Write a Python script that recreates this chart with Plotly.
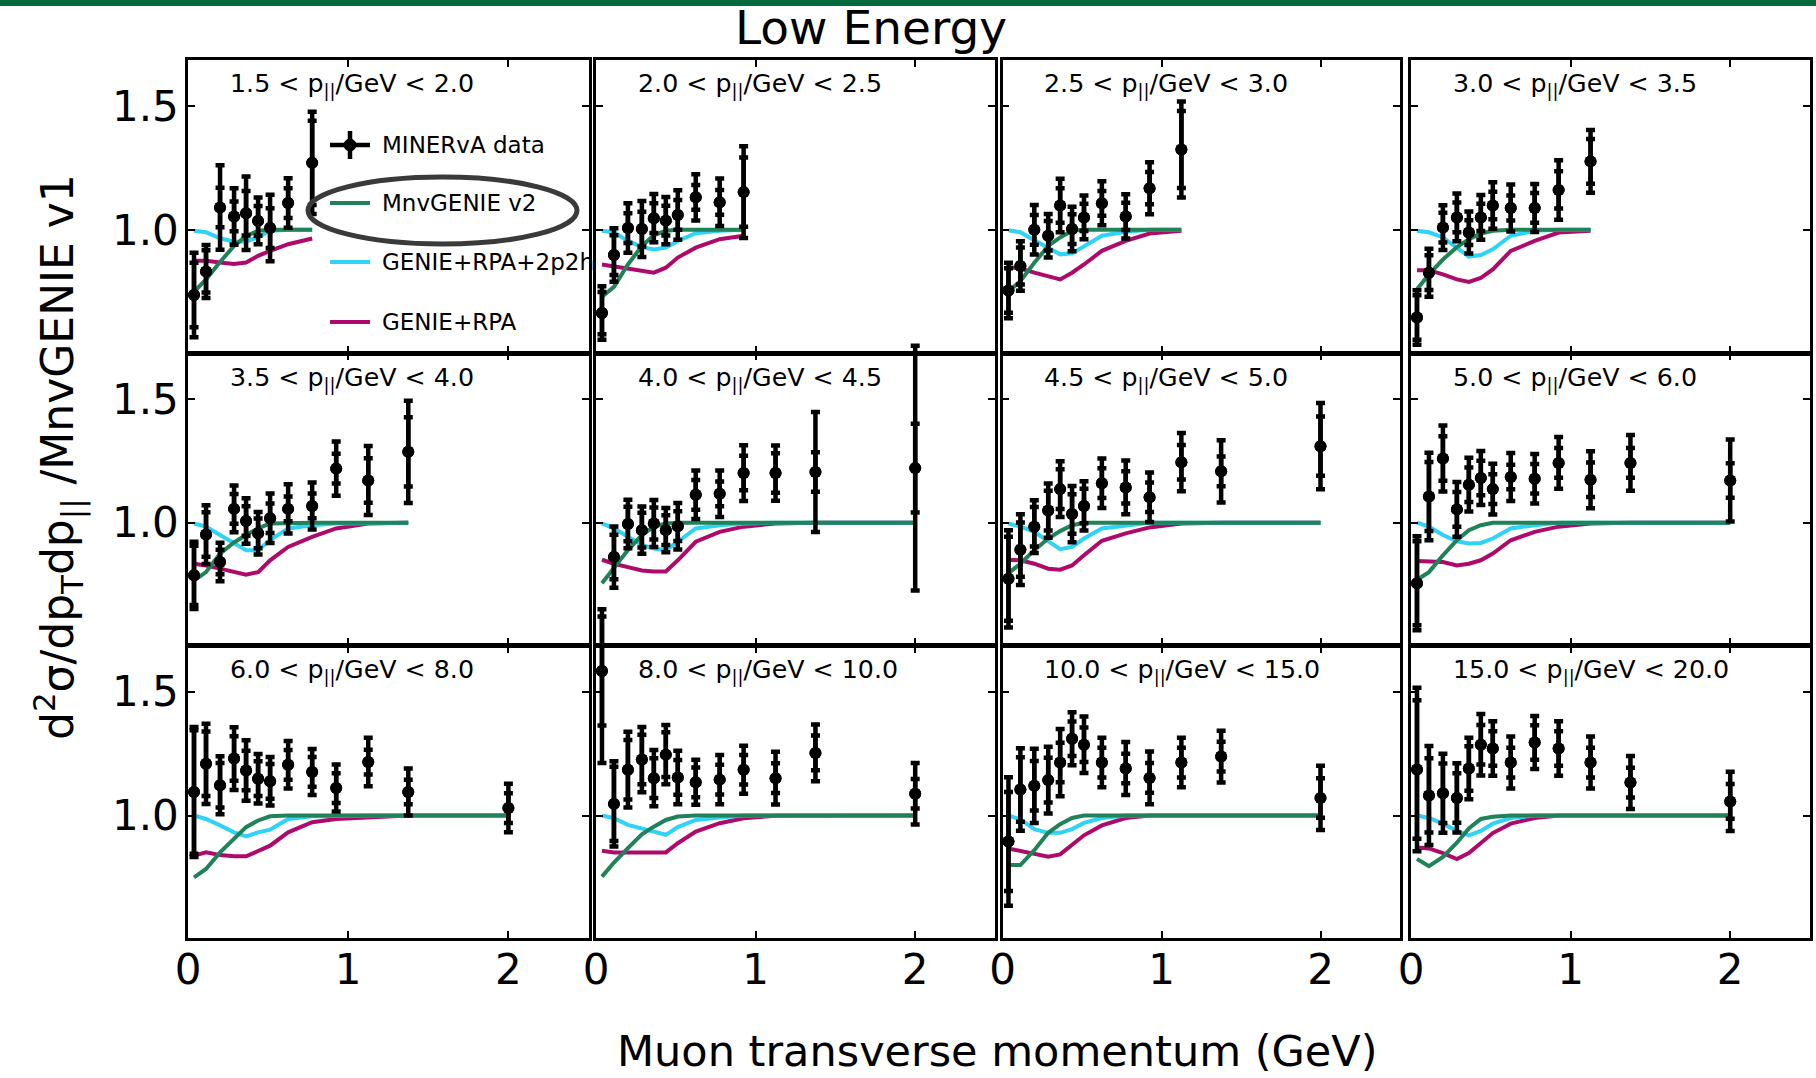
import plotly.graph_objects as go

W, H = 1816, 1078
FONT = "DejaVu Sans"

# Muon transverse momentum bin centres (GeV) shared by every panel
PT_CENTERS = [0.0375, 0.1125, 0.2, 0.2875, 0.3625, 0.4375, 0.5125, 0.625, 0.775, 0.925, 1.125, 1.375, 2.0]
# Longitudinal momentum slices (GeV)
PPAR_EDGES = [1.5, 2.0, 2.5, 3.0, 3.5, 4.0, 4.5, 5.0, 6.0, 8.0, 10.0, 15.0, 20.0]

# ---- 1.5 < p|| < 2.0
data_1 = [0.737, 0.832, 1.090, 1.054, 1.067, 1.036, 1.007, 1.108, 1.270]
tot_1 = [0.170, 0.107, 0.170, 0.114, 0.148, 0.094, 0.134, 0.100, 0.206]
stat_1 = [0.130, 0.085, 0.080, 0.060, 0.090, 0.060, 0.080, 0.060, 0.170]
mnv2_1 = [0.750, 0.800, 0.870, 0.935, 0.975, 0.996, 1.000, 1.000, 1.000]
r2p2h_1 = [0.996, 0.990, 0.966, 0.952, 0.953, 0.970, 0.996, 1.000, 1.000]
rpa_1 = [0.875, 0.875, 0.868, 0.862, 0.868, 0.895, 0.915, 0.942, 0.965]

# ---- 2.0 < p|| < 2.5
data_2 = [0.664, 0.898, 1.007, 1.003, 1.047, 1.037, 1.060, 1.131, 1.111, 1.152]
tot_2 = [0.108, 0.108, 0.100, 0.113, 0.097, 0.095, 0.100, 0.093, 0.096, 0.185]
stat_2 = [0.085, 0.080, 0.060, 0.070, 0.060, 0.060, 0.060, 0.050, 0.050, 0.140]
mnv2_2 = [0.730, 0.770, 0.860, 0.935, 0.978, 0.996, 1.000, 1.000, 1.000, 1.000]
r2p2h_2 = [0.996, 0.990, 0.955, 0.930, 0.921, 0.928, 0.955, 0.986, 0.996, 1.000]
rpa_2 = [0.860, 0.853, 0.844, 0.835, 0.827, 0.847, 0.888, 0.928, 0.962, 0.976]

# ---- 2.5 < p|| < 3.0
data_3 = [0.755, 0.854, 1.000, 0.976, 1.098, 1.003, 1.050, 1.107, 1.054, 1.168, 1.324]
tot_3 = [0.112, 0.100, 0.100, 0.088, 0.108, 0.090, 0.088, 0.089, 0.089, 0.105, 0.194]
stat_3 = [0.090, 0.075, 0.060, 0.060, 0.070, 0.060, 0.055, 0.050, 0.055, 0.065, 0.155]
mnv2_3 = [0.752, 0.793, 0.867, 0.935, 0.969, 0.996, 1.000, 1.000, 1.000, 1.000, 1.000]
r2p2h_3 = [0.998, 0.990, 0.958, 0.925, 0.901, 0.905, 0.935, 0.976, 0.992, 1.000, 1.000]
rpa_3 = [0.850, 0.844, 0.827, 0.812, 0.800, 0.827, 0.860, 0.915, 0.955, 0.985, 0.996]

# ---- 3.0 < p|| < 3.5
data_4 = [0.646, 0.827, 1.009, 1.050, 0.989, 1.050, 1.098, 1.088, 1.088, 1.161, 1.276]
tot_4 = [0.110, 0.097, 0.090, 0.096, 0.085, 0.090, 0.094, 0.095, 0.097, 0.120, 0.127]
stat_4 = [0.090, 0.070, 0.060, 0.060, 0.050, 0.055, 0.055, 0.050, 0.060, 0.075, 0.090]
mnv2_4 = [0.760, 0.820, 0.880, 0.930, 0.962, 0.985, 0.996, 1.000, 1.000, 1.000, 1.000]
r2p2h_4 = [0.996, 0.990, 0.969, 0.928, 0.892, 0.898, 0.921, 0.976, 0.996, 1.000, 1.000]
rpa_4 = [0.837, 0.837, 0.820, 0.800, 0.790, 0.806, 0.840, 0.915, 0.955, 0.989, 0.996]

# ---- 3.5 < p|| < 4.0
data_5 = [0.787, 0.952, 0.841, 1.056, 1.007, 0.957, 1.018, 1.056, 1.068, 1.219, 1.171, 1.287]
tot_5 = [0.136, 0.119, 0.078, 0.095, 0.092, 0.086, 0.100, 0.100, 0.095, 0.110, 0.140, 0.207]
stat_5 = [0.120, 0.090, 0.050, 0.060, 0.060, 0.060, 0.060, 0.050, 0.050, 0.060, 0.090, 0.140]
mnv2_5 = [0.766, 0.800, 0.875, 0.920, 0.950, 0.977, 0.997, 1.000, 1.000, 1.000, 1.000, 1.000]
r2p2h_5 = [0.997, 0.984, 0.950, 0.916, 0.889, 0.889, 0.930, 0.977, 0.990, 0.997, 1.000, 1.000]
rpa_5 = [0.834, 0.827, 0.814, 0.800, 0.790, 0.800, 0.848, 0.902, 0.943, 0.977, 0.997, 1.000]

# ---- 4.0 < p|| < 4.5 (lowest pT bin has no point in range)
data_6 = [None, 0.861, 0.995, 0.970, 0.997, 0.970, 0.986, 1.113, 1.117, 1.201, 1.201, 1.205, 1.221]
tot_6 = [None, 0.124, 0.098, 0.096, 0.095, 0.090, 0.094, 0.098, 0.094, 0.113, 0.112, 0.243, 0.495]
stat_6 = [None, 0.090, 0.070, 0.070, 0.065, 0.060, 0.060, 0.060, 0.050, 0.070, 0.080, 0.080, 0.180]
mnv2_6 = [0.755, 0.814, 0.889, 0.950, 0.984, 0.997, 1.000, 1.000, 1.000, 1.000, 1.000, 1.000, 1.000]
r2p2h_6 = [0.997, 0.977, 0.943, 0.910, 0.895, 0.889, 0.923, 0.977, 0.990, 0.997, 1.000, 1.000, 1.000]
rpa_6 = [0.850, 0.834, 0.820, 0.807, 0.803, 0.803, 0.848, 0.923, 0.963, 0.984, 0.997, 1.000, 1.000]

# ---- 4.5 < p|| < 5.0
data_7 = [0.773, 0.891, 0.984, 1.049, 1.136, 1.035, 1.068, 1.160, 1.143, 1.103, 1.245, 1.208, 1.310]
tot_7 = [0.197, 0.143, 0.107, 0.110, 0.113, 0.114, 0.100, 0.100, 0.109, 0.100, 0.118, 0.126, 0.175]
stat_7 = [0.170, 0.110, 0.080, 0.080, 0.080, 0.080, 0.070, 0.060, 0.065, 0.060, 0.070, 0.060, 0.120]
mnv2_7 = [0.796, 0.834, 0.889, 0.936, 0.966, 0.990, 1.000, 1.000, 1.000, 1.000, 1.000, 1.000, 1.000]
r2p2h_7 = [0.997, 0.984, 0.963, 0.923, 0.893, 0.902, 0.936, 0.977, 0.990, 1.000, 1.000, 1.000, 1.000]
rpa_7 = [0.850, 0.848, 0.834, 0.814, 0.810, 0.827, 0.868, 0.927, 0.957, 0.981, 0.997, 1.000, 1.000]

# ---- 5.0 < p|| < 6.0
data_8 = [0.755, 1.106, 1.260, 1.054, 1.154, 1.181, 1.136, 1.185, 1.178, 1.242, 1.174, 1.242, 1.171]
tot_8 = [0.190, 0.177, 0.134, 0.111, 0.109, 0.109, 0.103, 0.097, 0.100, 0.105, 0.115, 0.113, 0.166]
stat_8 = [0.170, 0.140, 0.090, 0.070, 0.070, 0.070, 0.060, 0.050, 0.060, 0.060, 0.070, 0.060, 0.070]
mnv2_8 = [0.769, 0.800, 0.868, 0.929, 0.970, 0.990, 1.000, 1.000, 1.000, 1.000, 1.000, 1.000, 1.000]
r2p2h_8 = [1.000, 0.984, 0.950, 0.925, 0.916, 0.918, 0.936, 0.977, 0.990, 1.000, 1.000, 1.000, 1.000]
rpa_8 = [0.845, 0.845, 0.841, 0.827, 0.834, 0.848, 0.875, 0.929, 0.963, 0.984, 0.997, 1.000, 1.000]

# ---- 6.0 < p|| < 8.0
data_9 = [1.095, 1.209, 1.122, 1.230, 1.182, 1.149, 1.138, 1.205, 1.176, 1.111, 1.216, 1.095, 1.030]
tot_9 = [0.263, 0.162, 0.117, 0.127, 0.122, 0.100, 0.098, 0.096, 0.093, 0.095, 0.098, 0.095, 0.098]
stat_9 = [0.250, 0.130, 0.090, 0.090, 0.080, 0.070, 0.070, 0.060, 0.060, 0.060, 0.050, 0.050, 0.060]
mnv2_9 = [0.750, 0.784, 0.851, 0.908, 0.953, 0.980, 0.997, 1.000, 1.000, 1.000, 1.000, 1.000, 1.000]
r2p2h_9 = [1.000, 0.986, 0.960, 0.932, 0.916, 0.932, 0.943, 0.986, 0.997, 1.000, 1.000, 1.000, 1.000]
rpa_9 = [0.838, 0.851, 0.840, 0.835, 0.835, 0.858, 0.878, 0.932, 0.973, 0.986, 0.993, 1.000, 1.000]

# ---- 8.0 < p|| < 10.0 (first point has an asymmetric band)
data_10 = [1.584, 1.047, 1.185, 1.226, 1.151, 1.246, 1.154, 1.134, 1.145, 1.185, 1.151, 1.253, 1.088]
tot_10 = [0.372, 0.172, 0.153, 0.132, 0.114, 0.120, 0.108, 0.091, 0.100, 0.097, 0.107, 0.115, 0.124]
tot_up_10 = [0.250, 0.172, 0.153, 0.132, 0.114, 0.120, 0.108, 0.091, 0.100, 0.097, 0.107, 0.115, 0.124]
stat_10 = [0.220, 0.150, 0.120, 0.100, 0.080, 0.090, 0.070, 0.060, 0.060, 0.060, 0.060, 0.070, 0.060]
mnv2_10 = [0.753, 0.810, 0.868, 0.924, 0.955, 0.982, 0.996, 1.000, 1.000, 1.000, 1.000, 1.000, 1.000]
r2p2h_10 = [1.000, 0.989, 0.962, 0.946, 0.932, 0.922, 0.953, 0.982, 0.992, 1.000, 1.000, 1.000, 1.000]
rpa_10 = [0.858, 0.851, 0.851, 0.851, 0.851, 0.851, 0.888, 0.935, 0.969, 0.989, 0.999, 1.000, 1.000]

# ---- 10.0 < p|| < 15.0
data_11 = [0.895, 1.105, 1.120, 1.143, 1.214, 1.310, 1.286, 1.214, 1.190, 1.152, 1.214, 1.238, 1.071]
tot_11 = [0.260, 0.167, 0.150, 0.135, 0.136, 0.107, 0.114, 0.100, 0.107, 0.107, 0.100, 0.105, 0.130]
stat_11 = [0.200, 0.130, 0.100, 0.090, 0.080, 0.070, 0.070, 0.060, 0.060, 0.060, 0.060, 0.060, 0.080]
mnv2_11 = [0.800, 0.800, 0.860, 0.930, 0.965, 0.990, 1.000, 1.000, 1.000, 1.000, 1.000, 1.000, 1.000]
r2p2h_11 = [1.000, 0.985, 0.945, 0.930, 0.930, 0.945, 0.970, 0.990, 1.000, 1.000, 1.000, 1.000, 1.000]
rpa_11 = [0.867, 0.857, 0.843, 0.833, 0.843, 0.880, 0.920, 0.960, 0.990, 1.000, 1.000, 1.000, 1.000]

# ---- 15.0 < p|| < 20.0
data_12 = [1.186, 1.081, 1.090, 1.071, 1.190, 1.286, 1.271, 1.214, 1.295, 1.271, 1.214, 1.133, 1.057]
tot_12 = [0.330, 0.200, 0.160, 0.140, 0.124, 0.124, 0.110, 0.105, 0.107, 0.110, 0.105, 0.107, 0.120]
stat_12 = [0.280, 0.150, 0.120, 0.100, 0.090, 0.080, 0.070, 0.060, 0.070, 0.070, 0.060, 0.060, 0.070]
mnv2_12 = [0.824, 0.795, 0.833, 0.890, 0.948, 0.986, 0.995, 1.000, 1.000, 1.000, 1.000, 1.000, 1.000]
r2p2h_12 = [1.000, 0.990, 0.967, 0.938, 0.920, 0.938, 0.967, 0.990, 1.000, 1.000, 1.000, 1.000, 1.000]
rpa_12 = [0.871, 0.867, 0.848, 0.824, 0.848, 0.890, 0.929, 0.967, 0.990, 1.000, 1.000, 1.000, 1.000]

MODEL_COLORS = {"MnvGENIE v2": "#1f8258", "GENIE+RPA+2p2h": "#2ed3f7", "GENIE+RPA": "#ad0a6c"}

panels = [
    (data_1, tot_1, None, stat_1, mnv2_1, r2p2h_1, rpa_1),
    (data_2, tot_2, None, stat_2, mnv2_2, r2p2h_2, rpa_2),
    (data_3, tot_3, None, stat_3, mnv2_3, r2p2h_3, rpa_3),
    (data_4, tot_4, None, stat_4, mnv2_4, r2p2h_4, rpa_4),
    (data_5, tot_5, None, stat_5, mnv2_5, r2p2h_5, rpa_5),
    (data_6, tot_6, None, stat_6, mnv2_6, r2p2h_6, rpa_6),
    (data_7, tot_7, None, stat_7, mnv2_7, r2p2h_7, rpa_7),
    (data_8, tot_8, None, stat_8, mnv2_8, r2p2h_8, rpa_8),
    (data_9, tot_9, None, stat_9, mnv2_9, r2p2h_9, rpa_9),
    (data_10, tot_10, tot_up_10, stat_10, mnv2_10, r2p2h_10, rpa_10),
    (data_11, tot_11, None, stat_11, mnv2_11, r2p2h_11, rpa_11),
    (data_12, tot_12, None, stat_12, mnv2_12, r2p2h_12, rpa_12),
]

# panel frames in pixels (a thin white gap separates neighbouring columns)
COL_PX = [(188.0, 588.5), (596.0, 995.0), (1002.5, 1400.0), (1411.0, 1810.0)]
ROW_PX = [(60.0, 352.5), (353.5, 645.0), (646.0, 938.0)]
X_RANGE = [0.0, 2.5]
Y_RANGE = [0.505, 1.685]
# data points live on a taller hidden axis with identical scale so long error
# bars may run past the frame of their own panel
OVERHANG = 60.0


def px(x):
    return x / W


def py(y):
    return 1.0 - y / H


fig = go.Figure()
layout = dict(
    width=W, height=H,
    margin=dict(l=0, r=0, t=0, b=0, autoexpand=False),
    paper_bgcolor="white", plot_bgcolor="rgba(0,0,0,0)",
    showlegend=False,
    font=dict(family=FONT, color="black"),
)

annotations = []
shapes = []
NP = len(panels)

for k, (dat, tot, tot_up, stat, mnv2, r2p2h, rpa) in enumerate(panels):
    r, c = divmod(k, 4)
    n = k + 1
    sfx = "" if n == 1 else str(n)
    xa, ya = "x" + sfx, "y" + sfx
    ya_pts = "y" + str(n + NP)
    x0, x1 = COL_PX[c]
    y0, y1 = ROW_PX[r]

    axis_common = dict(
        showline=True, linecolor="black", linewidth=2.5, mirror="ticks",
        ticks="inside", ticklen=7, tickwidth=2, tickcolor="black",
        showgrid=False, zeroline=False, fixedrange=True, automargin=False,
        tickfont=dict(family=FONT, size=42, color="black"),
    )
    layout["xaxis" + sfx] = dict(
        axis_common, domain=[px(x0), px(x1)], range=X_RANGE, anchor=ya,
        tickvals=[0, 1, 2], ticktext=["0", "1", "2"],
        showticklabels=(r == 2), ticklabelstandoff=-7,
    )
    layout["yaxis" + sfx] = dict(
        axis_common, domain=[py(y1), py(y0)], range=Y_RANGE, anchor=xa,
        tickvals=[1.0, 1.5], ticktext=["1.0", "1.5"],
        showticklabels=(c == 0), ticklabelstandoff=-2,
    )
    # hidden axis for the data points, same pixels per unit as the frame
    ppu = (y1 - y0) / (Y_RANGE[1] - Y_RANGE[0])
    top_px = max(0.0, y0 - OVERHANG)
    bot_px = min(H, y1 + OVERHANG)
    layout["yaxis" + str(n + NP)] = dict(
        visible=False, anchor=xa, fixedrange=True, automargin=False,
        domain=[py(bot_px), py(top_px)],
        range=[Y_RANGE[0] - (bot_px - y1) / ppu, Y_RANGE[1] + (y0 - top_px) / ppu],
    )

    xs_model = PT_CENTERS[:len(mnv2)]
    for name, vals in (("GENIE+RPA", rpa), ("GENIE+RPA+2p2h", r2p2h), ("MnvGENIE v2", mnv2)):
        fig.add_trace(go.Scatter(
            x=xs_model, y=vals, mode="lines", name=name,
            line=dict(color=MODEL_COLORS[name], width=4),
            xaxis=xa, yaxis=ya, hoverinfo="skip",
        ))

    xs_data = PT_CENTERS[:len(dat)]
    up = tot_up if tot_up is not None else tot
    fig.add_trace(go.Scatter(
        x=xs_data, y=dat, mode="markers", name="MINERvA data",
        marker=dict(size=12, color="black"),
        error_y=dict(type="data", symmetric=False, array=up, arrayminus=tot,
                     thickness=4.5, width=4.5, color="black"),
        xaxis=xa, yaxis=ya_pts,
    ))
    fig.add_trace(go.Scatter(
        x=xs_data, y=dat, mode="markers", name="MINERvA data (stat.)",
        marker=dict(size=12, color="black"),
        error_y=dict(type="data", array=stat, thickness=4.5, width=4.5, color="black"),
        xaxis=xa, yaxis=ya_pts,
    ))

    lo, hi = PPAR_EDGES[k], PPAR_EDGES[k + 1]
    annotations.append(dict(
        text=f"{lo:.1f} &lt; p<sub>||</sub>/GeV &lt; {hi:.1f}",
        xref=xa + " domain", yref=ya + " domain",
        x=0.1, y=0.975, xanchor="left", yanchor="top", showarrow=False,
        font=dict(family=FONT, size=25.3, color="black"),
    ))

# hand-drawn legend inside the first panel
LEG_X0, LEG_X1, LEG_TX = 330, 370, 380
legend_rows = [("MINERvA data", 145), ("MnvGENIE v2", 203), ("GENIE+RPA+2p2h", 262), ("GENIE+RPA", 322)]
for label, yy in legend_rows:
    if label == "MINERvA data":
        shapes.append(dict(type="line", xref="paper", yref="paper",
                           x0=px(LEG_X0), x1=px(LEG_X1), y0=py(yy), y1=py(yy),
                           line=dict(color="black", width=4.5)))
        shapes.append(dict(type="line", xref="paper", yref="paper",
                           x0=px(350), x1=px(350), y0=py(yy - 14), y1=py(yy + 14),
                           line=dict(color="black", width=4.5)))
        shapes.append(dict(type="circle", xref="paper", yref="paper",
                           x0=px(344), x1=px(356), y0=py(yy - 6), y1=py(yy + 6),
                           fillcolor="black", line=dict(color="black", width=1)))
    else:
        shapes.append(dict(type="line", xref="paper", yref="paper",
                           x0=px(LEG_X0), x1=px(LEG_X1), y0=py(yy), y1=py(yy),
                           line=dict(color=MODEL_COLORS[label], width=4)))
    annotations.append(dict(
        text=label, xref="paper", yref="paper", x=px(LEG_TX), y=py(yy),
        xanchor="left", yanchor="middle", showarrow=False,
        font=dict(family=FONT, size=23, color="black"),
    ))

# ring highlighting the MnvGENIE v2 entry
shapes.append(dict(type="circle", xref="paper", yref="paper",
                   x0=px(308), x1=px(577), y0=py(244), y1=py(177),
                   line=dict(color="#3a3a3a", width=5)))

# slide banner
shapes.append(dict(type="rect", xref="paper", yref="paper", x0=0, x1=1, y0=py(6), y1=1,
                   fillcolor="#006a3d", line=dict(width=0), layer="above"))

annotations.append(dict(
    text="Low Energy", xref="paper", yref="paper", x=px(871), y=py(27),
    xanchor="center", yanchor="middle", showarrow=False,
    font=dict(family=FONT, size=47, color="black"),
))
annotations.append(dict(
    text="Muon transverse momentum (GeV)", xref="paper", yref="paper",
    x=px(997), y=py(1051), xanchor="center", yanchor="middle", showarrow=False,
    font=dict(family=FONT, size=43, color="black"),
))
annotations.append(dict(
    text="d<sup>2</sup>σ/dp<sub>T</sub>dp<sub>||</sub> /MnvGENIE v1", xref="paper", yref="paper",
    x=px(58), y=py(457), xanchor="center", yanchor="middle", showarrow=False, textangle=-90,
    font=dict(family=FONT, size=44, color="black"),
))

layout["annotations"] = annotations
layout["shapes"] = shapes
fig.update_layout(**layout)
fig.write_html("out.html")
